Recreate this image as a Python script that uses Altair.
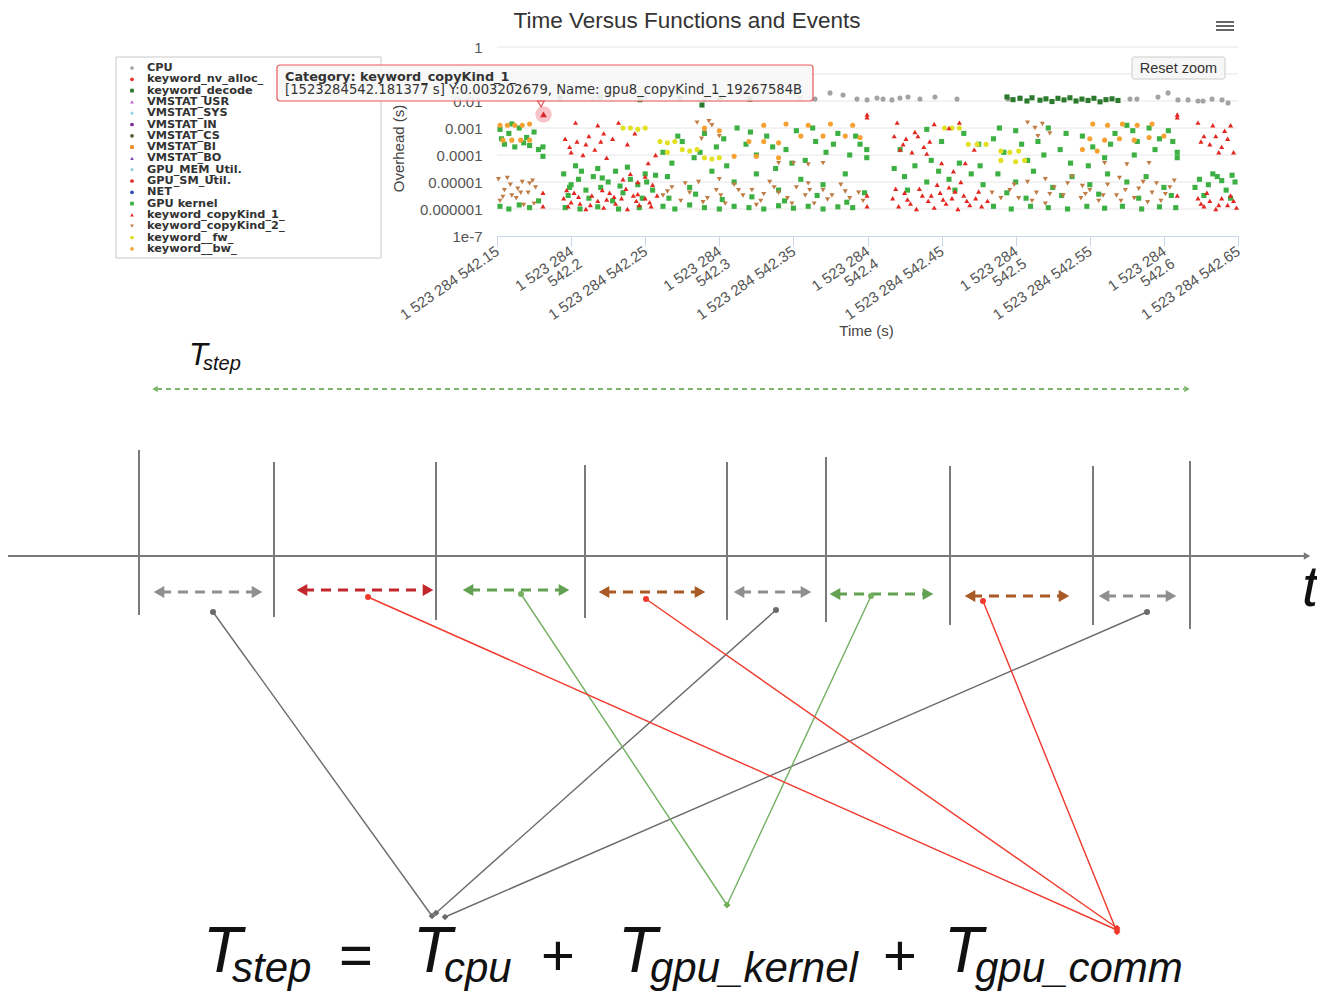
import altair as alt
import pandas as pd

W, H = 1309, 983
M = 8  # page margin

# ---------------- scatter chart data ----------------
TITLE = "Time Versus Functions and Events"
X_TICKS = [0.15, 0.2, 0.25, 0.3, 0.35, 0.4, 0.45, 0.5, 0.55, 0.6, 0.65]   # s after 1523284542
Y_TICKS = [1e-7, 1e-6, 1e-5, 1e-4, 1e-3, 1e-2, 1e-1, 1]
GRID_VALUES = [1e-6, 1e-5, 1e-4, 1e-3, 1e-2, 1e-1, 1]

CATEGORIES = ["CPU", "keyword_nv_alloc_", "keyword_decode", "VMSTAT_USR", "VMSTAT_SYS",
              "VMSTAT_IN", "VMSTAT_CS", "VMSTAT_BI", "VMSTAT_BO", "GPU_MEM_Util.",
              "GPU_SM_Util.", "NET", "GPU kernel", "keyword_copyKind_1_",
              "keyword_copyKind_2_", "keyword__fw_", "keyword__bw_"]
CAT_COLORS = ["#a3a3a3", "#e8332b", "#2b7a2b", "#c060d0", "#8dd3e8", "#7a2aa0", "#4d5b32",
              "#f08a24", "#7d4bb5", "#8ccbe0", "#e52521", "#2c4fb5", "#3cb043", "#e3261f",
              "#c07c45", "#e2e022", "#f5a232"]
CAT_SHAPES = ["circle", "circle", "square", "triangle-up", "diamond", "circle", "circle",
              "square", "triangle-up", "diamond", "circle", "circle", "square",
              "triangle-up", "triangle-down", "circle", "circle"]

# (time offset s, log10 overhead s)
cpu_pts = [(0.215, -1.90), (0.250, -1.88), (0.290, -1.93), (0.320, -1.90), (0.3545, -1.90),
           (0.3646, -1.93), (0.3747, -1.70), (0.3835, -1.78), (0.3929, -1.93), (0.3997, -1.96),
           (0.4064, -1.89), (0.4105, -1.93), (0.4165, -1.96), (0.4219, -1.89), (0.4273, -1.85),
           (0.4354, -1.93), (0.4455, -1.85), (0.4604, -1.93), (0.4948, -1.93), (0.5029, -1.89),
           (0.5771, -1.93), (0.5818, -1.93), (0.5960, -1.85), (0.6028, -1.70), (0.6095, -1.96),
           (0.6163, -1.96), (0.6230, -2.00), (0.6264, -2.00), (0.6325, -1.93), (0.6392, -1.96),
           (0.6433, -2.07)]
decode_pts = [(0.1925, -1.90), (0.2195, -1.85), (0.2465, -1.95), (0.2735, -1.90), (0.3005, -1.88),
              (0.3207, -1.93), (0.2883, -2.15), (0.4941, -1.85), (0.4982, -1.95), (0.5029, -1.90),
              (0.5076, -2.00), (0.5110, -1.88), (0.5164, -1.97), (0.5204, -1.92), (0.5245, -2.02),
              (0.5285, -1.90), (0.5326, -1.96), (0.5366, -1.88), (0.5407, -2.00), (0.5447, -1.93),
              (0.5488, -1.98), (0.5528, -1.90), (0.5569, -2.03), (0.5609, -1.95), (0.5650, -1.92),
              (0.5690, -1.98)]
kernel_pts = [(0.152, -3.05), (0.158, -3.20), (0.165, -3.00), (0.170, -3.35), (0.155, -3.60),
              (0.162, -3.70), (0.175, -3.15), (0.160, -2.85), (0.168, -3.55), (0.178, -3.80),
              (0.153, -3.40), (0.172, -3.65), (0.181, -3.70), (0.181, -4.05),
              (0.152, -5.90), (0.158, -6.00), (0.165, -5.85), (0.172, -5.95), (0.178, -5.70),
              (0.195, -4.70), (0.200, -5.10), (0.205, -4.90), (0.210, -5.30), (0.215, -4.80),
              (0.220, -5.20), (0.225, -5.00), (0.230, -4.60), (0.235, -5.40), (0.240, -4.90),
              (0.245, -5.10), (0.250, -4.70), (0.255, -5.30), (0.198, -5.50), (0.212, -5.60),
              (0.228, -5.70), (0.248, -5.60), (0.203, -4.40), (0.218, -4.50), (0.238, -4.45),
              (0.196, -5.95), (0.206, -6.00), (0.218, -5.92), (0.232, -6.00), (0.246, -5.95),
              (0.262, -5.90), (0.270, -6.00), (0.280, -5.85), (0.290, -5.95), (0.300, -6.00),
              (0.310, -5.90), (0.320, -5.95), (0.330, -6.00), (0.340, -5.88), (0.350, -5.97),
              (0.360, -5.90), (0.370, -6.00), (0.380, -5.92), (0.390, -5.95),
              (0.262, -3.90), (0.268, -4.30), (0.275, -3.50), (0.283, -4.10), (0.290, -3.20),
              (0.298, -3.70), (0.305, -4.40), (0.312, -3.00), (0.318, -3.60), (0.325, -4.00),
              (0.332, -3.30), (0.338, -4.50), (0.345, -3.80), (0.352, -3.10), (0.358, -4.20),
              (0.365, -3.50), (0.372, -3.90), (0.380, -3.20), (0.388, -4.00), (0.395, -3.60),
              (0.265, -4.80), (0.280, -5.20), (0.295, -4.60), (0.310, -5.00), (0.325, -4.70),
              (0.340, -5.30), (0.355, -4.90), (0.370, -5.10), (0.385, -4.70), (0.398, -5.40),
              (0.3995, -3.80), (0.3995, -4.10),
              (0.418, -4.50), (0.425, -4.80), (0.432, -4.40), (0.440, -5.00), (0.448, -4.60),
              (0.455, -4.90), (0.462, -4.30), (0.470, -4.70), (0.478, -5.10), (0.422, -3.80),
              (0.450, -3.50), (0.465, -3.20), (0.475, -3.60), (0.440, -3.05),
              (0.485, -3.40), (0.492, -3.90), (0.500, -3.10), (0.508, -4.20), (0.515, -3.50),
              (0.522, -3.00), (0.530, -3.80), (0.537, -4.30), (0.545, -3.30), (0.552, -3.70),
              (0.560, -4.10), (0.567, -3.20), (0.575, -2.90), (0.582, -3.50), (0.590, -3.00),
              (0.597, -3.40), (0.603, -3.10), (0.580, -4.00),
              (0.488, -4.70), (0.500, -5.00), (0.512, -4.60), (0.525, -5.20), (0.538, -4.80),
              (0.550, -5.10), (0.562, -4.70), (0.575, -5.00), (0.588, -4.80), (0.600, -5.20),
              (0.485, -5.90), (0.497, -6.00), (0.510, -5.90), (0.522, -5.95), (0.535, -6.00),
              (0.548, -5.90), (0.560, -5.97), (0.572, -5.90), (0.585, -6.00), (0.597, -5.92),
              (0.608, -5.95), (0.609, -3.90), (0.609, -4.10),
              (0.624, -4.90), (0.630, -5.10), (0.636, -4.80), (0.642, -5.30), (0.648, -5.00),
              (0.627, -5.50), (0.645, -5.60), (0.633, -4.70),
              (0.199, -5.20), (0.207, -4.60), (0.221, -4.85), (0.233, -5.15), (0.251, -5.00),
              (0.257, -4.75), (0.266, -5.60), (0.284, -5.45), (0.302, -5.65), (0.322, -5.55),
              (0.344, -5.70), (0.366, -5.50), (0.386, -5.75), (0.272, -3.30), (0.287, -3.90),
              (0.303, -3.40), (0.321, -3.15), (0.336, -3.70), (0.349, -4.30), (0.363, -3.00),
              (0.377, -3.60), (0.392, -3.30), (0.427, -5.30), (0.443, -4.20), (0.459, -5.30),
              (0.476, -4.40), (0.489, -3.00), (0.504, -3.60), (0.519, -4.00), (0.534, -3.20),
              (0.549, -4.40), (0.564, -3.60), (0.579, -3.10), (0.594, -3.80), (0.606, -3.50),
              (0.494, -5.40), (0.507, -5.60), (0.531, -5.50), (0.556, -5.45), (0.583, -5.60),
              (0.605, -5.50), (0.621, -5.20), (0.639, -4.95), (0.646, -4.75)]
copy2_pts = [(0.151, -4.90), (0.155, -5.30), (0.159, -5.10), (0.163, -5.60), (0.167, -5.00),
             (0.171, -5.40), (0.175, -5.80), (0.152, -5.70), (0.160, -5.50), (0.168, -5.85),
             (0.176, -5.20), (0.157, -4.85), (0.164, -5.25), (0.172, -5.05),
             (0.154, -5.55), (0.166, -5.40), (0.174, -4.95),
             (0.262, -5.50), (0.268, -5.20), (0.274, -5.70), (0.280, -5.40), (0.286, -5.00),
             (0.292, -5.60), (0.298, -5.30), (0.304, -5.80), (0.310, -5.10), (0.316, -5.50),
             (0.322, -5.30), (0.328, -5.70), (0.334, -5.00), (0.340, -5.40), (0.346, -5.60),
             (0.352, -5.20), (0.358, -5.50), (0.364, -5.80), (0.370, -5.30), (0.376, -5.50),
             (0.382, -5.10), (0.388, -5.60), (0.394, -5.40), (0.300, -4.90), (0.330, -5.45),
             (0.360, -5.05), (0.265, -5.35), (0.277, -5.05), (0.289, -5.75), (0.301, -5.50),
             (0.313, -5.30), (0.325, -5.85), (0.337, -5.20), (0.349, -5.80), (0.361, -5.30),
             (0.373, -5.65), (0.385, -5.35), (0.397, -5.70),
             (0.285, -2.80), (0.290, -3.10), (0.295, -2.90), (0.300, -3.30), (0.288, -3.40),
             (0.293, -2.75), (0.340, -4.30), (0.350, -4.30), (0.360, -4.35), (0.370, -4.30),
             (0.496, -5.30), (0.502, -5.60), (0.508, -5.00), (0.514, -5.40), (0.520, -5.80),
             (0.526, -5.20), (0.532, -5.50), (0.538, -4.80), (0.544, -5.60), (0.550, -5.30),
             (0.556, -5.70), (0.562, -5.10), (0.568, -5.50), (0.574, -5.30), (0.580, -5.60),
             (0.586, -5.00), (0.592, -5.40), (0.598, -5.70), (0.604, -5.20), (0.490, -5.60),
             (0.484, -5.40), (0.520, -4.90), (0.545, -5.15), (0.570, -4.85), (0.595, -5.05),
             (0.499, -5.10), (0.511, -5.70), (0.523, -5.45), (0.535, -5.05), (0.547, -5.45),
             (0.559, -5.50), (0.571, -5.70), (0.583, -5.25), (0.589, -5.75), (0.601, -5.45),
             (0.607, -4.95),
             (0.508, -2.80), (0.513, -3.00), (0.518, -2.85), (0.523, -3.20), (0.515, -3.30),
             (0.560, -4.30), (0.575, -4.35), (0.590, -4.30)]
bw_pts = [(0.152, -2.90), (0.157, -2.90), (0.162, -2.90), (0.167, -2.90), (0.172, -2.85),
          (0.154, -3.45), (0.160, -3.45), (0.166, -3.45), (0.172, -3.45),
          (0.290, -3.00), (0.300, -3.10), (0.330, -2.90), (0.345, -2.85), (0.360, -2.90),
          (0.375, -2.85), (0.390, -2.90), (0.320, -3.50), (0.330, -3.50), (0.340, -3.55),
          (0.310, -4.05), (0.325, -4.05), (0.340, -4.10), (0.355, -3.30), (0.370, -3.30),
          (0.385, -3.30), (0.395, -3.35),
          (0.552, -2.85), (0.562, -2.90), (0.572, -2.85), (0.582, -2.90), (0.592, -2.85),
          (0.550, -3.40), (0.560, -3.45), (0.570, -3.40), (0.580, -3.45), (0.545, -3.80),
          (0.555, -3.85), (0.600, -3.30), (0.590, -3.35)]
fw_pts = [(0.235, -3.00), (0.240, -3.00), (0.245, -3.05), (0.250, -3.00), (0.260, -3.50),
          (0.265, -3.55), (0.270, -3.50), (0.275, -3.80), (0.280, -3.85), (0.285, -3.80),
          (0.290, -4.10), (0.295, -4.15), (0.300, -4.10), (0.265, -3.90),
          (0.452, -3.00), (0.457, -3.00), (0.462, -3.00), (0.468, -3.60), (0.474, -3.60),
          (0.480, -3.60), (0.490, -3.85), (0.496, -3.90), (0.502, -3.85), (0.490, -4.20),
          (0.500, -4.25), (0.506, -4.20)]
copy1_pts = [(0.181, -5.40), (0.181, -5.90),
             (0.196, -3.40), (0.200, -3.90), (0.204, -3.50), (0.208, -4.00), (0.212, -3.30),
             (0.216, -3.80), (0.220, -3.50), (0.224, -4.10), (0.228, -3.40), (0.203, -2.80),
             (0.218, -2.90), (0.232, -2.80), (0.238, -3.60), (0.243, -3.20),
             (0.199, -3.70), (0.210, -3.60), (0.222, -3.20),
             (0.195, -5.60), (0.198, -5.90), (0.202, -5.40), (0.206, -5.80), (0.210, -6.00),
             (0.214, -5.50), (0.218, -5.70), (0.222, -5.95), (0.226, -5.40), (0.230, -5.80),
             (0.234, -5.60), (0.238, -6.00), (0.242, -5.50), (0.246, -5.85), (0.250, -5.60),
             (0.254, -5.90), (0.258, -5.50), (0.200, -5.75), (0.224, -5.65), (0.244, -5.70),
             (0.197, -5.30), (0.205, -5.55), (0.213, -5.85), (0.221, -5.30), (0.229, -5.55),
             (0.237, -5.25), (0.245, -5.45), (0.253, -5.75),
             (0.240, -4.70), (0.245, -5.00), (0.250, -4.80), (0.255, -5.10), (0.235, -4.90),
             (0.252, -4.30), (0.257, -4.00),
             (0.3997, -2.50), (0.3997, -2.60), (0.3997, -5.50), (0.3997, -5.90),
             (0.418, -3.30), (0.422, -3.80), (0.426, -3.40), (0.430, -3.90), (0.434, -3.30),
             (0.438, -3.70), (0.442, -3.50), (0.420, -2.80), (0.445, -2.85), (0.455, -3.00),
             (0.462, -2.80), (0.450, -4.30), (0.458, -4.60), (0.466, -4.30), (0.472, -3.80),
             (0.424, -3.60), (0.432, -3.15), (0.440, -3.95),
             (0.417, -5.60), (0.421, -5.90), (0.425, -5.40), (0.429, -5.80), (0.433, -6.00),
             (0.437, -5.50), (0.441, -5.70), (0.445, -5.95), (0.449, -5.40), (0.453, -5.80),
             (0.457, -5.60), (0.461, -6.00), (0.465, -5.50), (0.469, -5.85), (0.473, -5.60),
             (0.477, -5.90), (0.481, -5.70), (0.447, -5.10), (0.455, -5.20), (0.463, -5.00),
             (0.419, -5.25), (0.427, -5.65), (0.435, -5.25), (0.443, -5.50), (0.451, -5.65),
             (0.459, -5.35), (0.467, -5.70), (0.475, -5.35),
             (0.609, -2.50), (0.609, -2.60), (0.609, -5.50),
             (0.623, -2.80), (0.627, -3.30), (0.631, -3.60), (0.635, -3.30), (0.639, -3.70),
             (0.643, -3.40), (0.647, -3.90), (0.633, -2.90), (0.645, -2.90),
             (0.625, -3.50), (0.637, -3.90), (0.641, -3.10),
             (0.623, -5.60), (0.627, -5.90), (0.631, -5.70), (0.635, -6.00), (0.639, -5.60),
             (0.643, -5.85), (0.647, -5.70), (0.649, -5.95), (0.629, -5.40),
             (0.625, -5.80), (0.637, -5.85), (0.645, -5.50)]

HOVER_T = 0.181377          # 1523284542.181377 s
HOVER_Y = 0.003202679
TOOLTIP_LINE1 = "Category: keyword_copyKind_1_"
TOOLTIP_LINE2 = "[1523284542.181377 s] Y:0.003202679, Name: gpu8_copyKind_1_19267584B"

# ---------------- timeline diagram data (page pixel units) ----------------
bound_x = [139, 274, 436, 585, 727, 826, 950, 1093, 1190]
bound_top = [450, 462, 462, 465, 462, 457, 466, 466, 461]
bound_bot = [615, 617, 620, 618, 620, 622, 625, 625, 629]

seg_kind = ["cpu", "comm_a", "kernel", "comm_b", "cpu", "kernel", "comm_b", "cpu"]
seg_x1 = [153, 296, 462, 598, 733, 829, 964, 1098]
seg_x2 = [263, 434, 570, 706, 812, 934, 1070, 1177]
seg_y = [592, 590, 590, 592, 592, 594, 596, 596]

link_kind = ["cpu", "cpu", "cpu", "kernel", "kernel", "comm", "comm", "comm"]
link_x1 = [213, 776, 1147, 521, 871, 368, 646, 983]
link_y1 = [612, 610, 612, 594, 596, 597, 599, 601]
link_x2 = [432, 436, 445, 727, 727, 1117, 1117, 1117]
link_y2 = [916, 913, 917, 905, 905, 930, 928, 932]

SEG_COLORS = {"cpu": "#8f8f92", "comm_a": "#c1272d", "kernel": "#62a152", "comm_b": "#a85b27"}
LINK_COLORS = {"cpu": "#6b6b6b", "kernel": "#72b060", "comm": "#f0392c"}

equation_parts = [("T", 203, 972, 64, "italic"), ("step", 232, 982, 42, "italic"),
                  ("=", 339, 975, 58, "normal"),
                  ("T", 413, 972, 64, "italic"), ("cpu", 444, 982, 42, "italic"),
                  ("+", 541, 975, 58, "normal"),
                  ("T", 618, 972, 64, "italic"), ("gpu_kernel", 650, 982, 42, "italic"),
                  ("+", 883, 975, 58, "normal"),
                  ("T", 944, 972, 64, "italic"), ("gpu_comm", 975, 982, 42, "italic")]
tstep_parts = [("T", 189, 365, 31), ("step", 203, 370, 20)]

# ---------------- scales ----------------
XS = alt.Scale(domain=[0.15, 0.65], range=[497 - M, 1238 - M], nice=False, zero=False)
YS = alt.Scale(type="log", domain=[1e-7, 1], range=[236 - M, 47 - M], nice=False)
PX = alt.Scale(domain=[M, M + W], range=[0, W], nice=False, zero=False)
PY = alt.Scale(domain=[M, M + H], range=[0, H], nice=False, zero=False)

FONT = "Liberation Sans"


def pxy():
    return dict(x=alt.X("x:Q", scale=PX, axis=None), y=alt.Y("y:Q", scale=PY, axis=None))


def text_layer(df, **kw):
    return alt.Chart(df).mark_text(**kw).encode(text="text:N", **pxy())


layers = []

# grid lines
grid_df = pd.DataFrame({"g": GRID_VALUES})
layers.append(alt.Chart(grid_df).mark_rule(color="#e6e6e6", strokeWidth=1).encode(
    y=alt.Y("g:Q", scale=YS, axis=None), x=alt.value(497 - M), x2=alt.value(1238 - M)))

# scatter points
rows = []
for cat, pts in [("CPU", cpu_pts), ("keyword_decode", decode_pts), ("GPU kernel", kernel_pts),
                 ("keyword_copyKind_2_", copy2_pts), ("keyword__bw_", bw_pts),
                 ("keyword__fw_", fw_pts), ("keyword_copyKind_1_", copy1_pts)]:
    for t, lg in pts:
        rows.append({"t": t, "v": 10 ** lg, "cat": cat})
sc_df = pd.DataFrame(rows)

x_label_expr = ("(round((datum.value - 0.15) / 0.05) % 2 == 0) ? "
                "'1 523 284 ' + format(542 + datum.value, '.2~f') : "
                "['1 523 284', format(542 + datum.value, '.2~f')]")
y_label_expr = "datum.value < 5e-7 ? '1e-7' : format(datum.value, '.6~f')"

x_axis = alt.Axis(orient="bottom", offset=(236 - M) - H, values=X_TICKS, labelExpr=x_label_expr,
                  labelAngle=-35, labelAlign="right", labelBaseline="middle", labelPadding=3,
                  labelFont=FONT, labelFontSize=15, labelColor="#555555", labelLineHeight=15,
                  labelOverlap=False, labelFlush=False, tickColor="#ccd6eb", tickSize=10,
                  domainColor="#ccd6eb", grid=False, title="Time (s)", titleFont=FONT,
                  titleFontSize=15, titleFontWeight="normal", titleColor="#444444",
                  titleX=866 - M, titleY=330 - 236, titleAlign="center", titleBaseline="middle")
y_axis = alt.Axis(orient="left", offset=-(497 - M), values=Y_TICKS, labelExpr=y_label_expr,
                  domain=False, ticks=False, tickSize=0, labelPadding=15, labelFont=FONT,
                  labelFontSize=15, labelColor="#555555", labelOverlap=False, grid=False,
                  title="Overhead (s)", titleFont=FONT, titleFontSize=15,
                  titleFontWeight="normal", titleColor="#444444", titleX=398 - 497,
                  titleY=148 - M, titleAlign="center", titleBaseline="middle", titleAngle=-90)

color_scale = alt.Scale(domain=CATEGORIES, range=CAT_COLORS)
shape_scale = alt.Scale(domain=CATEGORIES, range=CAT_SHAPES)

layers.append(alt.Chart(sc_df).mark_point(filled=True, opacity=1, size=26, strokeWidth=0).encode(
    x=alt.X("t:Q", scale=XS, axis=x_axis),
    y=alt.Y("v:Q", scale=YS, axis=y_axis),
    color=alt.Color("cat:N", scale=color_scale, legend=None),
    shape=alt.Shape("cat:N", scale=shape_scale, legend=None)))

# hovered point halo
hov_df = pd.DataFrame({"t": [HOVER_T], "v": [HOVER_Y]})
layers.append(alt.Chart(hov_df).mark_circle(color="#f29aa3", opacity=0.6, size=270).encode(
    x=alt.X("t:Q", scale=XS, axis=None), y=alt.Y("v:Q", scale=YS, axis=None)))
layers.append(alt.Chart(hov_df).mark_point(shape="triangle-up", filled=True, color="#d8262a",
                                           opacity=1, size=45).encode(
    x=alt.X("t:Q", scale=XS, axis=None), y=alt.Y("v:Q", scale=YS, axis=None)))

# title, menu icon, reset zoom button
layers.append(text_layer(pd.DataFrame({"text": [TITLE], "x": [687], "y": [21]}),
                         font=FONT, fontSize=22.5, color="#333333", align="center", baseline="middle"))
menu_df = pd.DataFrame({"x": [1216, 1216, 1216], "x2": [1234, 1234, 1234], "y": [22, 26, 30]})
layers.append(alt.Chart(menu_df).mark_rule(color="#666666", strokeWidth=2).encode(
    x2=alt.X2("x2"), **pxy()))
btn_df = pd.DataFrame({"x": [1132], "x2": [1225], "y": [57], "y2": [79]})
layers.append(alt.Chart(btn_df).mark_rect(fill="#f7f7f7", stroke="#cccccc", strokeWidth=1,
                                          cornerRadius=2).encode(
    x2=alt.X2("x2"), y2=alt.Y2("y2"), **pxy()))
layers.append(text_layer(pd.DataFrame({"text": ["Reset zoom"], "x": [1178.5], "y": [68.5]}),
                         font=FONT, fontSize=14.5, color="#333333", align="center", baseline="middle"))

# legend box
leg_box = pd.DataFrame({"x": [116], "x2": [381], "y": [57], "y2": [258]})
layers.append(alt.Chart(leg_box).mark_rect(fill="white", stroke="#c9c9c9", strokeWidth=1).encode(
    x2=alt.X2("x2"), y2=alt.Y2("y2"), **pxy()))
leg_df = pd.DataFrame({"cat": CATEGORIES, "text": CATEGORIES,
                       "y": [68 + i * 11.3 for i in range(len(CATEGORIES))]})
leg_df["x"] = 132
leg_df["tx"] = 147
layers.append(alt.Chart(leg_df).mark_point(filled=True, opacity=1, size=14, strokeWidth=0).encode(
    color=alt.Color("cat:N", scale=color_scale, legend=None),
    shape=alt.Shape("cat:N", scale=shape_scale, legend=None), **pxy()))
layers.append(alt.Chart(leg_df).mark_text(font="DejaVu Sans", fontSize=11.3, fontWeight="bold",
                                          color="#333333", align="left", baseline="middle").encode(
    x=alt.X("tx:Q", scale=PX, axis=None), y=alt.Y("y:Q", scale=PY, axis=None), text="text:N"))

# tooltip
tip_box = pd.DataFrame({"x": [277], "x2": [813], "y": [65], "y2": [101]})
layers.append(alt.Chart(tip_box).mark_rect(fill="#f7f7f7", fillOpacity=0.9, stroke="#e8585a",
                                           strokeWidth=1.2, cornerRadius=3).encode(
    x2=alt.X2("x2"), y2=alt.Y2("y2"), **pxy()))
layers.append(alt.Chart(pd.DataFrame({"x": [541], "y": [104]})).mark_point(
    shape="triangle-down", filled=True, fill="#f7f7f7", stroke="#e8585a", strokeWidth=1.2,
    size=45, opacity=1).encode(**pxy()))
layers.append(text_layer(pd.DataFrame({"text": [TOOLTIP_LINE1], "x": [285], "y": [77]}),
                         font="DejaVu Sans", fontSize=12.8, fontWeight="bold", color="#333333",
                         align="left", baseline="middle"))
layers.append(text_layer(pd.DataFrame({"text": [TOOLTIP_LINE2], "x": [285], "y": [90]}),
                         font="DejaVu Sans", fontSize=13.2, color="#333333",
                         align="left", baseline="middle"))

# ---------------- diagram ----------------
for txt, x, y, s in tstep_parts:
    layers.append(text_layer(pd.DataFrame({"text": [txt], "x": [x], "y": [y]}),
                             font=FONT, fontSize=s, fontStyle="italic", color="#111111",
                             align="left", baseline="alphabetic"))
span_df = pd.DataFrame({"x": [157], "x2": [1184], "y": [389]})
layers.append(alt.Chart(span_df).mark_rule(color="#7db56c", strokeWidth=1.8, strokeDash=[5, 4]).encode(
    x2=alt.X2("x2"), **pxy()))
layers.append(alt.Chart(pd.DataFrame({"x": [155], "y": [389]})).mark_point(
    shape="triangle-left", filled=True, color="#7db56c", opacity=1, size=40).encode(**pxy()))
layers.append(alt.Chart(pd.DataFrame({"x": [1187], "y": [389]})).mark_point(
    shape="triangle-right", filled=True, color="#7db56c", opacity=1, size=40).encode(**pxy()))

# time axis
axis_df = pd.DataFrame({"x": [M], "x2": [1304], "y": [556]})
layers.append(alt.Chart(axis_df).mark_rule(color="#7a7a7a", strokeWidth=2).encode(
    x2=alt.X2("x2"), **pxy()))
layers.append(alt.Chart(pd.DataFrame({"x": [1307], "y": [556]})).mark_point(
    shape="triangle-right", filled=True, color="#7a7a7a", opacity=1, size=55).encode(**pxy()))
layers.append(text_layer(pd.DataFrame({"text": ["t"], "x": [1302], "y": [606]}),
                         font=FONT, fontSize=58, fontStyle="italic", color="#111111",
                         align="left", baseline="alphabetic"))

# boundaries
bnd_df = pd.DataFrame({"x": bound_x, "y": bound_top, "y2": bound_bot})
layers.append(alt.Chart(bnd_df).mark_rule(color="#7a7a7a", strokeWidth=2).encode(
    y2=alt.Y2("y2"), **pxy()))

# segment double arrows
seg_df = pd.DataFrame({"kind": seg_kind, "x1": seg_x1, "x2": seg_x2, "y": seg_y})
for kind, col in SEG_COLORS.items():
    d = seg_df[seg_df.kind == kind]
    shaft = pd.DataFrame({"x": d.x1 + 8, "x2": d.x2 - 8, "y": d.y})
    layers.append(alt.Chart(shaft).mark_rule(color=col, strokeWidth=3, strokeDash=[10, 7]).encode(
        x2=alt.X2("x2"), **pxy()))
    lh = pd.DataFrame({"x": d.x1 + 6, "y": d.y})
    rh = pd.DataFrame({"x": d.x2 - 6, "y": d.y})
    layers.append(alt.Chart(lh).mark_point(shape="triangle-left", filled=True, color=col,
                                           opacity=1, size=150).encode(**pxy()))
    layers.append(alt.Chart(rh).mark_point(shape="triangle-right", filled=True, color=col,
                                           opacity=1, size=150).encode(**pxy()))

# links to equation terms
link_df = pd.DataFrame({"kind": link_kind, "x": link_x1, "y": link_y1, "x2": link_x2, "y2": link_y2})
for kind, col in LINK_COLORS.items():
    d = link_df[link_df.kind == kind]
    layers.append(alt.Chart(d).mark_rule(color=col, strokeWidth=1.4).encode(
        x2=alt.X2("x2"), y2=alt.Y2("y2"), **pxy()))
    layers.append(alt.Chart(d).mark_circle(color=col, opacity=1, size=36).encode(**pxy()))
    ends = pd.DataFrame({"x": d.x2, "y": d.y2})
    layers.append(alt.Chart(ends).mark_point(shape="diamond", filled=True, color=col,
                                             opacity=1, size=45).encode(**pxy()))

# equation
for txt, x, y, s, st in equation_parts:
    layers.append(text_layer(pd.DataFrame({"text": [txt], "x": [x], "y": [y]}),
                             font=FONT, fontSize=s, fontStyle=st, color="#111111",
                             align="left", baseline="alphabetic"))

chart = alt.layer(*layers).resolve_scale(
    x="independent", y="independent", color="independent", shape="independent"
).properties(width=W, height=H, autosize=alt.AutoSizeParams(type="none"), padding=0
).configure_view(stroke=None)

chart.save("out.html", embed_options={"renderer": "svg", "actions": False})
